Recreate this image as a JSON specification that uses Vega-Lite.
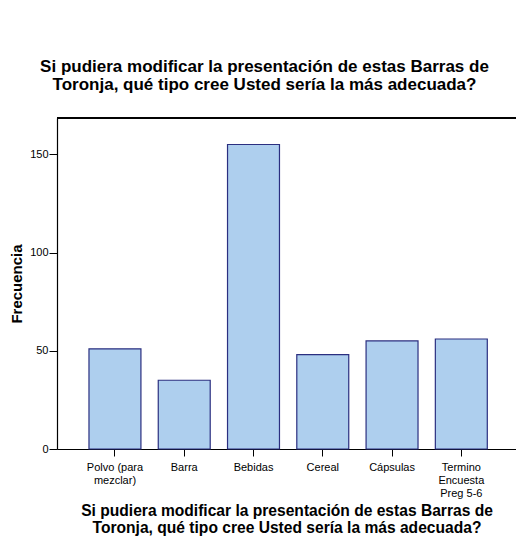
{
  "$schema": "https://vega.github.io/schema/vega-lite/v6.json",
  "autosize": {"type": "none"},
  "padding": {"left": 57, "top": 118, "right": 0, "bottom": 89},
  "width": 459,
  "height": 331,
  "background": "white",
  "config": {
    "font": "Liberation Sans",
    "view": {"stroke": null},
    "axis": {"grid": false, "domainColor": "#000000", "tickColor": "#000000", "labelColor": "#000000", "titleColor": "#000000", "labelFont": "Liberation Sans", "titleFont": "Liberation Sans"}
  },
  "title": {
    "text": ["Si pudiera modificar la presentación de estas Barras de", "Toronja, qué tipo cree Usted sería la más adecuada?"],
    "fontSize": 17,
    "fontWeight": "bold",
    "font": "Liberation Sans",
    "color": "#000000",
    "anchor": "middle",
    "lineHeight": 18,
    "offset": 23,
    "dx": -22
  },
  "data": {
    "values": [
      {"tipo": "Polvo (para mezclar)", "frecuencia": 51},
      {"tipo": "Barra", "frecuencia": 35},
      {"tipo": "Bebidas", "frecuencia": 155},
      {"tipo": "Cereal", "frecuencia": 48},
      {"tipo": "Cápsulas", "frecuencia": 55},
      {"tipo": "Termino Encuesta Preg 5-6", "frecuencia": 56}
    ]
  },
  "layer": [
    {
      "mark": {"type": "bar", "fill": "#aecfee", "stroke": "#2b2f80", "strokeWidth": 1.2},
      "encoding": {
        "x": {
          "field": "tipo",
          "type": "nominal",
          "sort": null,
          "scale": {"paddingInner": 0.25, "paddingOuter": 0.438, "align": 0.527},
          "axis": {
            "title": ["Si pudiera modificar la presentación de estas Barras de", "Toronja, qué tipo cree Usted sería la más adecuada?"],
            "titleFontSize": 15.6,
            "titleFontWeight": "bold",
            "titleLineHeight": 17,
            "titlePadding": 5,
            "labelAngle": 0,
            "labelFontSize": 11,
            "labelLineHeight": 13,
            "labelPadding": 5,
            "tickSize": 7,
            "domainWidth": 1.2,
            "labelExpr": "datum.label == 'Polvo (para mezclar)' ? ['Polvo (para', 'mezclar)'] : datum.label == 'Termino Encuesta Preg 5-6' ? ['Termino', 'Encuesta', 'Preg 5-6'] : datum.label"
          }
        },
        "y": {
          "field": "frecuencia",
          "type": "quantitative",
          "scale": {"domain": [0, 168.5], "nice": false},
          "axis": {
            "title": "Frecuencia",
            "titleFontSize": 15,
            "titleFontWeight": "bold",
            "titlePadding": 5,
            "values": [0, 50, 100, 150],
            "labelFontSize": 11,
            "labelPadding": 1,
            "tickSize": 8,
            "domainWidth": 1.2
          }
        }
      }
    },
    {
      "mark": {"type": "rule", "color": "#000000", "strokeWidth": 1.2},
      "encoding": {"y": {"datum": 168.5}}
    }
  ]
}
